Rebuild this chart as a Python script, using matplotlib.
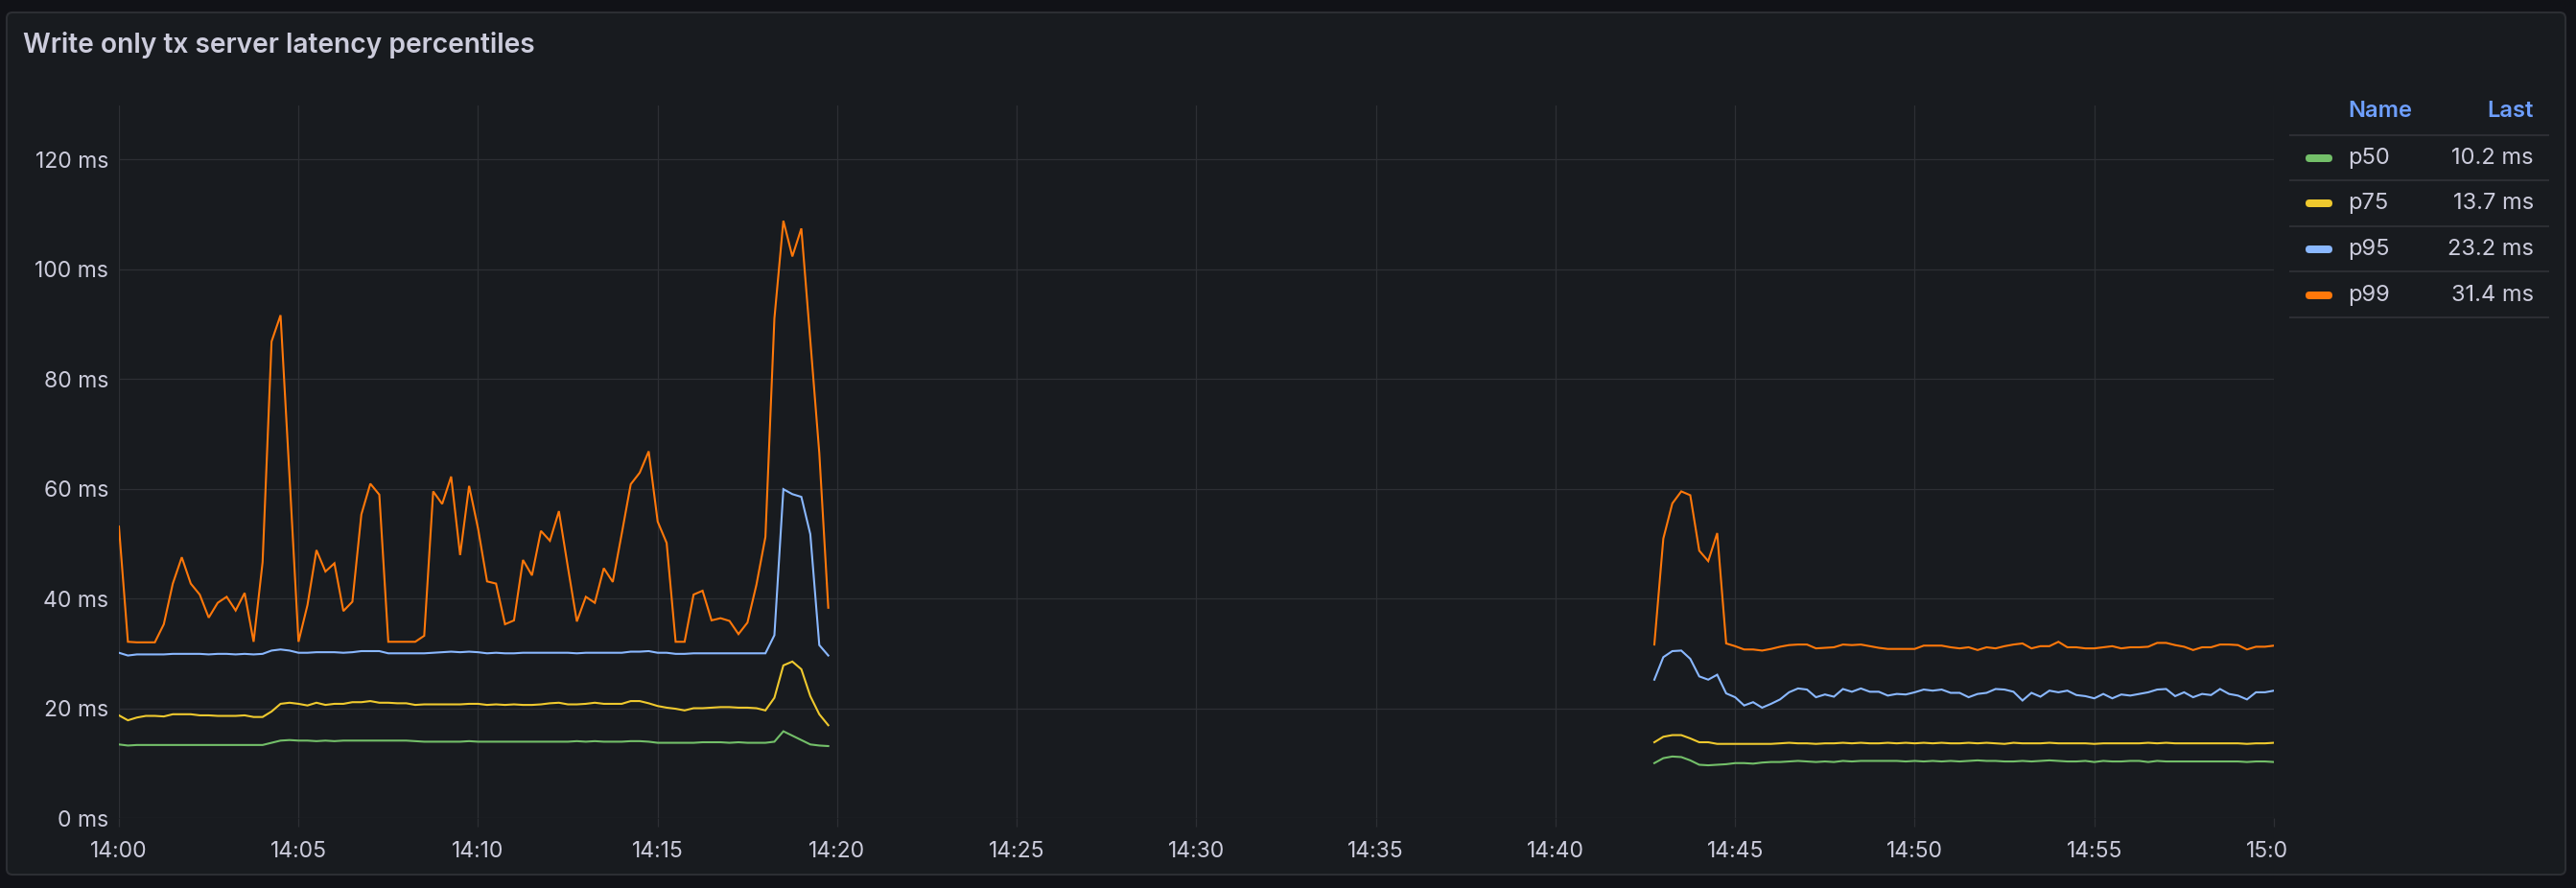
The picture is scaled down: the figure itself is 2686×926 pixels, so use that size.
import numpy as np
import pandas as pd
import matplotlib
matplotlib.use('Agg')
import matplotlib.pyplot as plt
import matplotlib.dates as mdates
from matplotlib.patches import FancyBboxPatch
from matplotlib.lines import Line2D
from matplotlib.transforms import IdentityTransform, Bbox, TransformedBbox

plt.rcParams['font.family'] = ['Inter', 'DejaVu Sans']

# First burst: 14:00:00 .. 14:19:45, one sample every 15 s
times_a = pd.date_range('2024-01-01 14:00:00', periods=80, freq='15s')
p50_a = [13.4, 13.2, 13.3, 13.3, 13.3, 13.3, 13.3, 13.3, 13.3, 13.3,
         13.3, 13.3, 13.3, 13.3, 13.3, 13.3, 13.3, 13.7, 14.1, 14.2,
         14.1, 14.1, 14.0, 14.1, 14.0, 14.1, 14.1, 14.1, 14.1, 14.1,
         14.1, 14.1, 14.1, 14.0, 13.9, 13.9, 13.9, 13.9, 13.9, 14.0,
         13.9, 13.9, 13.9, 13.9, 13.9, 13.9, 13.9, 13.9, 13.9, 13.9,
         13.9, 14.0, 13.9, 14.0, 13.9, 13.9, 13.9, 14.0, 14.0, 13.9,
         13.7, 13.7, 13.7, 13.7, 13.7, 13.8, 13.8, 13.8, 13.7, 13.8,
         13.7, 13.7, 13.7, 13.9, 15.8, 15.0, 14.2, 13.4, 13.2, 13.1]
p75_a = [18.7, 17.8, 18.3, 18.6, 18.6, 18.5, 18.9, 18.9, 18.9, 18.7,
         18.7, 18.6, 18.6, 18.6, 18.7, 18.4, 18.4, 19.4, 20.8, 21.0,
         20.8, 20.5, 21.0, 20.6, 20.8, 20.8, 21.1, 21.1, 21.3, 21.0,
         21.0, 20.9, 20.9, 20.6, 20.7, 20.7, 20.7, 20.7, 20.7, 20.8,
         20.8, 20.6, 20.7, 20.6, 20.7, 20.6, 20.6, 20.7, 20.9, 21.0,
         20.7, 20.7, 20.8, 21.0, 20.8, 20.8, 20.8, 21.3, 21.3, 20.9,
         20.4, 20.1, 19.9, 19.6, 20.0, 20.0, 20.1, 20.2, 20.2, 20.1,
         20.1, 20.0, 19.6, 21.9, 27.8, 28.5, 27.1, 22.2, 18.9, 16.9]
p95_a = [30.1, 29.6, 29.8, 29.8, 29.8, 29.8, 29.9, 29.9, 29.9, 29.9,
         29.8, 29.9, 29.9, 29.8, 29.9, 29.8, 29.9, 30.5, 30.7, 30.5,
         30.1, 30.1, 30.2, 30.2, 30.2, 30.1, 30.2, 30.4, 30.4, 30.4,
         30.0, 30.0, 30.0, 30.0, 30.0, 30.1, 30.2, 30.3, 30.2, 30.3,
         30.2, 30.0, 30.1, 30.0, 30.0, 30.1, 30.1, 30.1, 30.1, 30.1,
         30.1, 30.0, 30.1, 30.1, 30.1, 30.1, 30.1, 30.3, 30.3, 30.4,
         30.1, 30.1, 29.9, 29.9, 30.0, 30.0, 30.0, 30.0, 30.0, 30.0,
         30.0, 30.0, 30.0, 33.3, 59.9, 59.0, 58.5, 51.7, 31.5, 29.6]
p99_a = [53.1, 32.1, 32.0, 32.0, 32.0, 35.3, 42.7, 47.5, 42.7, 40.7,
         36.5, 39.2, 40.3, 37.8, 41.0, 32.1, 46.6, 86.8, 91.6, 62.2,
         32.1, 38.8, 48.8, 44.9, 46.4, 37.7, 39.4, 55.3, 60.9, 58.9,
         32.1, 32.1, 32.1, 32.1, 33.2, 59.5, 57.2, 62.2, 47.9, 60.5,
         52.7, 43.1, 42.7, 35.3, 36.0, 47.0, 44.2, 52.3, 50.5, 55.9,
         45.7, 35.8, 40.3, 39.2, 45.5, 43.0, 51.8, 60.8, 62.9, 66.8,
         54.0, 50.1, 32.1, 32.1, 40.7, 41.4, 36.0, 36.4, 35.9, 33.5,
         35.6, 42.5, 51.2, 91.0, 108.8, 102.3, 107.4, 87.0, 66.5, 38.3]

# Second burst: 14:42:45 .. 15:00:00
times_b = pd.date_range('2024-01-01 14:42:45', periods=70, freq='15s')
p50_b = [10.0, 10.9, 11.2, 11.1, 10.5, 9.7, 9.6, 9.7, 9.8, 10.0,
         10.0, 9.9, 10.1, 10.2, 10.2, 10.3, 10.4, 10.3, 10.2, 10.3,
         10.2, 10.4, 10.3, 10.4, 10.4, 10.4, 10.4, 10.4, 10.3, 10.4,
         10.3, 10.4, 10.3, 10.4, 10.3, 10.4, 10.5, 10.4, 10.4, 10.3,
         10.3, 10.4, 10.3, 10.4, 10.5, 10.4, 10.3, 10.3, 10.4, 10.2,
         10.4, 10.3, 10.3, 10.4, 10.4, 10.2, 10.4, 10.3, 10.3, 10.3,
         10.3, 10.3, 10.3, 10.3, 10.3, 10.3, 10.2, 10.3, 10.3, 10.2]
p75_b = [13.8, 14.8, 15.1, 15.1, 14.5, 13.8, 13.8, 13.5, 13.5, 13.5,
         13.5, 13.5, 13.5, 13.5, 13.6, 13.7, 13.6, 13.6, 13.5, 13.6,
         13.6, 13.7, 13.6, 13.7, 13.6, 13.6, 13.7, 13.6, 13.7, 13.6,
         13.7, 13.6, 13.7, 13.6, 13.6, 13.7, 13.6, 13.7, 13.6, 13.5,
         13.7, 13.6, 13.6, 13.6, 13.7, 13.6, 13.6, 13.6, 13.6, 13.5,
         13.6, 13.6, 13.6, 13.6, 13.6, 13.7, 13.6, 13.7, 13.6, 13.6,
         13.6, 13.6, 13.6, 13.6, 13.6, 13.6, 13.5, 13.6, 13.6, 13.7]
p95_b = [25.2, 29.3, 30.4, 30.5, 29.0, 25.8, 25.2, 26.1, 22.7, 22.0,
         20.5, 21.1, 20.1, 20.8, 21.6, 22.9, 23.6, 23.4, 22.0, 22.5,
         22.1, 23.5, 23.0, 23.6, 23.0, 23.0, 22.3, 22.6, 22.5, 22.9,
         23.4, 23.2, 23.4, 22.8, 22.8, 22.0, 22.6, 22.8, 23.5, 23.4,
         23.0, 21.4, 22.8, 22.1, 23.2, 22.9, 23.2, 22.4, 22.2, 21.8,
         22.6, 21.8, 22.5, 22.3, 22.6, 22.9, 23.4, 23.5, 22.2, 22.9,
         22.0, 22.6, 22.4, 23.5, 22.6, 22.3, 21.6, 22.9, 22.9, 23.2]
p99_b = [31.6, 50.9, 57.3, 59.5, 58.8, 48.7, 46.8, 51.9, 31.8, 31.3,
         30.7, 30.7, 30.5, 30.8, 31.2, 31.5, 31.6, 31.6, 30.9, 31.0,
         31.1, 31.6, 31.5, 31.6, 31.3, 31.0, 30.8, 30.8, 30.8, 30.8,
         31.4, 31.4, 31.4, 31.1, 30.9, 31.1, 30.6, 31.1, 30.9, 31.3,
         31.6, 31.8, 30.9, 31.3, 31.3, 32.1, 31.1, 31.1, 30.9, 30.9,
         31.1, 31.3, 30.9, 31.1, 31.1, 31.2, 31.9, 31.9, 31.5, 31.2,
         30.6, 31.1, 31.1, 31.6, 31.6, 31.5, 30.7, 31.2, 31.2, 31.4]

names = ['p50', 'p75', 'p95', 'p99']
colors = ['#73BF69', '#EFC92E', '#8AB8FF', '#FF780A']
series_a = [p50_a, p75_a, p95_a, p99_a]
series_b = [p50_b, p75_b, p95_b, p99_b]
y_ticks = [0, 20, 40, 60, 80, 100, 120]
x_ticks = pd.date_range('2024-01-01 14:00', '2024-01-01 15:00', freq='5min')

W, H = 2686, 926
bg = '#111217'
panel_bg = '#181b1f'
grid_c = '#2d2f34'
text_c = '#ccccdc'

fig = plt.figure(figsize=(W / 100, H / 100), dpi=100)
fig.patch.set_facecolor(bg)

# panel box, drawn in pixel coords (origin bottom-left)
panel = FancyBboxPatch((7, H - 912), 2675 - 7, 912 - 13,
                       boxstyle='round,pad=0,rounding_size=6',
                       transform=IdentityTransform(), fc=panel_bg,
                       ec='#2c2e33', lw=1.5, zorder=-10)
fig.patches.append(panel)

fig.text(24 / W, 1 - 47 / H, 'Write only tx server latency percentiles',
         color=text_c, fontsize=20.3, fontweight='semibold', va='center', ha='left')

ax = fig.add_axes([124 / W, (H - 853) / H, (2371 - 124) / W, (853 - 110) / H])
ax.set_facecolor('none')
for s in ax.spines.values():
    s.set_visible(False)

for c, ya, yb in zip(colors, series_a, series_b):
    ax.plot(times_a, ya, color=c, lw=1.5, solid_joinstyle='miter')
    ax.plot(times_b, yb, color=c, lw=1.5, solid_joinstyle='miter')

ax.set_ylim(0, 129.8)
ax.set_xlim(x_ticks[0], x_ticks[-1])
ax.set_yticks(y_ticks)
ax.set_yticklabels([f'{v} ms' for v in y_ticks])
ax.set_xticks(mdates.date2num(x_ticks))
ax.xaxis.set_major_formatter(mdates.DateFormatter('%H:%M'))
ax.grid(True, color=grid_c, lw=0.9)
ax.set_axisbelow(True)
ax.tick_params(axis='y', length=0, pad=8, labelsize=16.5, labelcolor=text_c)
ax.tick_params(axis='x', length=6.5, width=0.9, color=grid_c, pad=11,
               labelsize=16.5, labelcolor=text_c)

# last x label is cut at the legend edge like in the panel
last = ax.xaxis.get_major_ticks()[-1].label1
last.set_clip_box(TransformedBbox(Bbox.from_extents(0, 0, 2386, H), IdentityTransform()))
last.set_clip_on(True)

# legend table on the right
lx0, lx1 = 2388, 2657
fig.text(2448 / W, 1 - 116 / H, 'Name', color='#6E9FFF', fontsize=17,
         fontweight='semibold', ha='left', va='center')
fig.text(2642 / W, 1 - 116 / H, 'Last', color='#6E9FFF', fontsize=17,
         fontweight='semibold', ha='right', va='center')
for yy in [141, 188, 236, 283, 331]:
    fig.lines.append(Line2D([lx0 / W, lx1 / W], [1 - yy / H, 1 - yy / H],
                            transform=fig.transFigure, color='#2c2e33', lw=1.5))
row_y = [165, 212, 260, 308]
for name, c, yb, ry in zip(names, colors, series_b, row_y):
    sw = FancyBboxPatch((2404, H - ry - 4), 28, 8, boxstyle='round,pad=0,rounding_size=4',
                        transform=IdentityTransform(), fc=c, ec='none')
    fig.patches.append(sw)
    fig.text(2448 / W, 1 - ry / H, name, color=text_c, fontsize=17, ha='left', va='center')
    fig.text(2642 / W, 1 - ry / H, f'{yb[-1]:.1f} ms', color=text_c, fontsize=17,
             ha='right', va='center')

fig.savefig('out.png', dpi=100, facecolor=bg)
